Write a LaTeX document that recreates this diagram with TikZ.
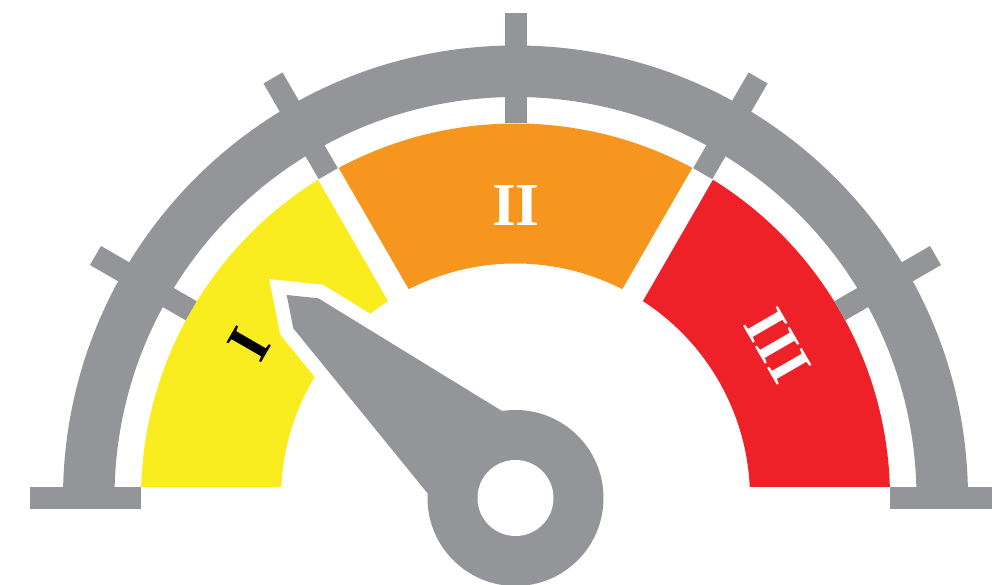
\documentclass[tikz,border=0pt]{standalone}
\usepackage{fontspec}
\setmainfont{Liberation Serif}
\definecolor{gg}{RGB}{147,149,152}
\definecolor{yy}{RGB}{249,237,32}
\definecolor{oo}{RGB}{247,150,30}
\definecolor{rr}{RGB}{238,32,40}
\begin{document}
\begin{tikzpicture}[x=1pt,y=1pt,
  gtick/.style={gg, line width=22pt},
  gapline/.style={white, line width=23.5pt},
  lbl/.style={font=\fontsize{61}{61}\selectfont\bfseries, inner sep=0pt}]
\useasboundingbox (-515.5,-87) rectangle (476.5,498);
\clip (-515.5,-87) rectangle (476.5,498);
% coloured sectors
\begin{scope}
  \clip (-400,11) rectangle (400,400);
  \fill[yy] (120:374.5) arc[start angle=120,end angle=180,radius=374.5]
     -- (180:234.5) arc[start angle=180,end angle=120,radius=234.5] -- cycle;
  \fill[oo] (60:374.5) arc[start angle=60,end angle=120,radius=374.5]
     -- (120:234.5) arc[start angle=120,end angle=60,radius=234.5] -- cycle;
  \fill[rr] (0:374.5) arc[start angle=0,end angle=60,radius=374.5]
     -- (60:234.5) arc[start angle=60,end angle=0,radius=234.5] -- cycle;
\end{scope}
\draw[gapline] (60:200) -- (60:390);
\draw[gapline] (120:200) -- (120:390);
% outer ring
\fill[gg] (0:452.5) arc[start angle=0,end angle=180,radius=452.5]
   -- (180:401) arc[start angle=180,end angle=0,radius=401] -- cycle;
% ticks and base bars
\foreach \a in {0,30,...,180} \draw[gtick] (\a:374.5) -- (\a:485);
% needle
\coordinate (A) at (-228.8,203);
\coordinate (B) at (-197.2,199.7);
\coordinate (D) at (98.8:88);
\coordinate (E) at (177:88);
\coordinate (C) at (-222.2,169.7);
\coordinate (O) at (0,0);
\draw[white, line width=28pt, line join=miter] (A) -- (B) -- (D) -- (E) -- (C) -- cycle;
\fill[gg] (A) -- (B) -- (D) -- (E) -- (C) -- cycle;
\fill[gg] (O) circle[radius=88];
\fill[white] (O) circle[radius=38];
% labels
\node[lbl, black, rotate=60] (l1) at (-266.2,153.3) {I};
\node[lbl, white] (l2) at (0.3,292) {II};
\node[lbl, white, rotate=-60] (l3) at (262.5,152.2) {III};
\end{tikzpicture}
\end{document}
